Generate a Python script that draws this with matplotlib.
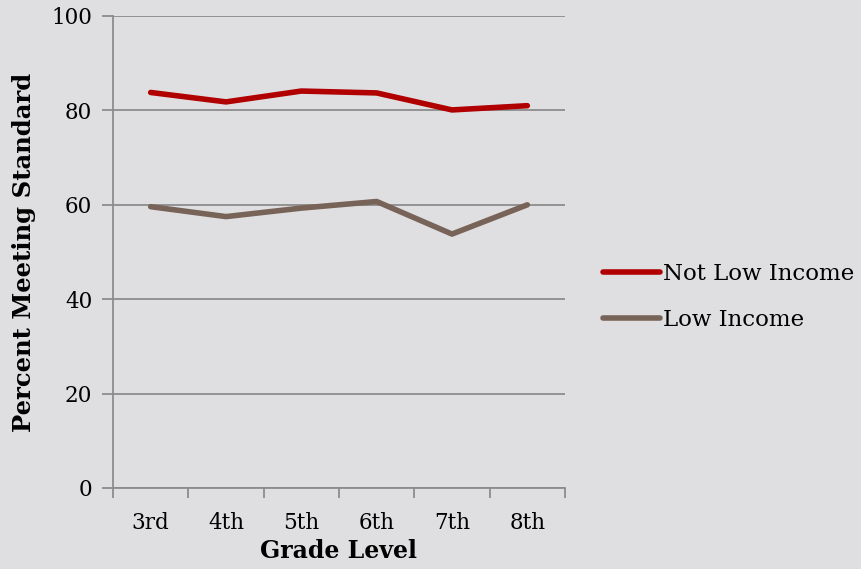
import matplotlib
matplotlib.use("Agg")
import matplotlib.pyplot as plt
from matplotlib.ticker import FixedLocator, NullFormatter

grades = ["3rd", "4th", "5th", "6th", "7th", "8th"]
not_low_income = [83.8, 81.8, 84.1, 83.7, 80.1, 81.0]
low_income = [59.6, 57.5, 59.3, 60.7, 53.8, 60.0]

bg = "#dfdfe1"
grid_c = "#8c8c8c"
plt.rcParams["font.family"] = ["DejaVu Serif"]

fig = plt.figure(figsize=(8.61, 5.69), dpi=100, facecolor=bg)
ax = fig.add_axes([113 / 861, 1 - 488 / 569, (565 - 113) / 861, (488 - 16) / 569])
ax.set_facecolor(bg)

x = list(range(len(grades)))
ax.plot(x, not_low_income, color="#b00000", lw=4, solid_capstyle="round",
        solid_joinstyle="round", label="Not Low Income", zorder=3)
ax.plot(x, low_income, color="#786358", lw=4, solid_capstyle="round",
        solid_joinstyle="round", label="Low Income", zorder=3)

ax.set_xlim(-0.5, len(grades) - 0.5)
ax.set_ylim(0, 100)
ax.set_yticks([0, 20, 40, 60, 80, 100])
ax.yaxis.grid(True, color=grid_c, lw=1.3)
ax.set_axisbelow(True)

ax.set_xticks(x)
ax.set_xticklabels(grades)
ax.tick_params(axis="x", which="major", length=0, pad=17, labelsize=15.5)
ax.xaxis.set_minor_locator(FixedLocator([i - 0.5 for i in range(len(grades) + 1)]))
ax.xaxis.set_minor_formatter(NullFormatter())
ax.tick_params(axis="x", which="minor", length=7, width=1.3, color=grid_c)
ax.tick_params(axis="y", length=8, width=1.3, color=grid_c, pad=7, labelsize=15.5)

for s in ("top", "right"):
    ax.spines[s].set_visible(False)
for s in ("left", "bottom"):
    ax.spines[s].set_color(grid_c)
    ax.spines[s].set_linewidth(1.3)

ax.set_xlabel("Grade Level", fontsize=17, fontweight="bold", labelpad=4)
ax.set_ylabel("Percent Meeting Standard", fontsize=17.5, fontweight="bold", labelpad=11)

fig.legend(loc="center left", bbox_to_anchor=(603 / 861, 1 - 297 / 569),
           frameon=False, fontsize=16.5, handlelength=2.5, handletextpad=0.12,
           labelspacing=1.05, borderpad=0, borderaxespad=0)

fig.savefig("out.png", dpi=100, facecolor=bg)
